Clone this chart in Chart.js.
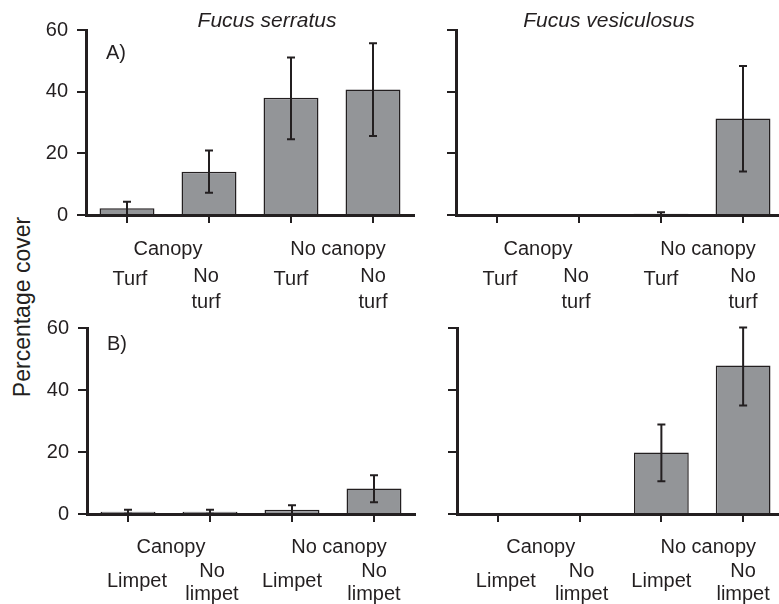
<!DOCTYPE html>
<html>
<head>
<meta charset="utf-8">
<script src="https://cdn.jsdelivr.net/npm/chart.js@4"></script>
<style>
  html, body { margin: 0; padding: 0; background: #fff; overflow: hidden; width: 779px; height: 604px; }
  canvas { position: absolute; }
  #ylab {
    position: absolute; left: 22px; top: 307px;
    transform: translate(-50%, -50%) rotate(-90deg);
    font: 23px "Liberation Sans", Arial, sans-serif; color: #231f20; white-space: nowrap;
  }
</style>
</head>
<body>
<div id="ylab">Percentage cover</div>
<canvas id="pA" style="left:0;top:0" width="430" height="320"></canvas>
<canvas id="pC" style="left:390px;top:0" width="400" height="320"></canvas>
<canvas id="pB" style="left:0;top:300px" width="430" height="304"></canvas>
<canvas id="pD" style="left:390px;top:300px" width="400" height="304"></canvas>
<script>
const species = ['Fucus serratus', 'Fucus vesiculosus']
const groupLabels = ['Canopy', 'No canopy']
const turfLabels = [['Turf'], ['No', 'turf'], ['Turf'], ['No', 'turf']]
const limpetLabels = [['Limpet'], ['No', 'limpet'], ['Limpet'], ['No', 'limpet']]
const yTicks = [0, 20, 40, 60]

// A) turf removal, F. serratus
const serratusTurf = [2.2, 14.0, 38.0, 40.7]
const serratusTurfLow = [0, 7.2, 24.6, 25.6]
const serratusTurfHigh = [4.3, 20.9, 51.1, 55.7]
// A) turf removal, F. vesiculosus
const vesiculosusTurf = [0, 0, 0.4, 31.3]
const vesiculosusTurfLow = [null, null, 0, 14.1]
const vesiculosusTurfHigh = [null, null, 0.9, 48.3]
// B) limpet removal, F. serratus
const serratusLimpet = [0.7, 0.7, 1.4, 8.2]
const serratusLimpetLow = [0.1, 0.1, 0, 3.8]
const serratusLimpetHigh = [1.4, 1.4, 2.8, 12.5]
// B) limpet removal, F. vesiculosus
const vesiculosusLimpet = [0, 0, 19.8, 47.9]
const vesiculosusLimpetLow = [null, null, 10.6, 35.0]
const vesiculosusLimpetHigh = [null, null, 28.9, 60.2]

const ink = '#231f20'
const family = '"Liberation Sans", Arial, sans-serif'
Chart.defaults.font.family = family

function decor(cfg) {
  return {
    id: 'decor',
    afterDatasetsDraw(chart) {
      const ctx = chart.ctx
      const x = chart.scales.x
      const y = chart.scales.y
      const meta = chart.getDatasetMeta(0)
      ctx.save()
      // error bars
      ctx.strokeStyle = ink
      ctx.lineWidth = 2
      cfg.high.forEach((h, i) => {
        if (h == null) return
        const px = meta.data[i].x
        const top = y.getPixelForValue(h)
        const bot = y.getPixelForValue(cfg.low[i])
        ctx.beginPath()
        ctx.moveTo(px, top); ctx.lineTo(px, bot)
        ctx.moveTo(px - 4, top); ctx.lineTo(px + 4, top)
        ctx.moveTo(px - 4, bot); ctx.lineTo(px + 4, bot)
        ctx.stroke()
      })
      ctx.fillStyle = ink
      ctx.textAlign = 'center'
      ctx.textBaseline = 'alphabetic'
      const y0 = y.getPixelForValue(0)
      // group labels
      ctx.font = '20px ' + family
      groupLabels.forEach((g, k) => {
        const cx = (x.getPixelForValue(2 * k) + x.getPixelForValue(2 * k + 1)) / 2 + cfg.groupShift[k]
        ctx.fillText(g, cx, y0 + cfg.rows.group)
      })
      // per-bar labels
      cfg.barLabels.forEach((lines, i) => {
        const px = x.getPixelForValue(i) + (cfg.labelShift[i] || 0)
        if (lines.length === 1) {
          ctx.fillText(lines[0], px, y0 + cfg.rows.single)
        } else {
          ctx.fillText(lines[0], px, y0 + cfg.rows.first)
          ctx.fillText(lines[1], px, y0 + cfg.rows.second)
        }
      })
      // panel title and letter
      if (cfg.title) {
        ctx.font = 'italic 21px ' + family
        ctx.fillText(cfg.title, cfg.titleX, 27)
      }
      if (cfg.letter) {
        ctx.font = '20px ' + family
        ctx.textAlign = 'left'
        ctx.fillText(cfg.letter, cfg.letterX, cfg.letterY)
      }
      ctx.restore()
    }
  }
}

function makePanel(cfg) {
  const ctx = document.getElementById(cfg.id).getContext('2d')
  return new Chart(ctx, {
    type: 'bar',
    data: {
      labels: cfg.barLabels.map(l => l.join(' ')),
      datasets: [{
        data: cfg.values,
        backgroundColor: '#939598',
        borderColor: ink,
        borderWidth: 1.5,
        barPercentage: 0.67,
        categoryPercentage: 1,
      }]
    },
    options: {
      responsive: false,
      animation: false,
      layout: { padding: { left: 0, top: cfg.top, right: cfg.right, bottom: 0 } },
      plugins: { legend: { display: false }, tooltip: { enabled: false } },
      scales: {
        x: {
          z: 1,
          offset: true,
          grid: { offset: false, drawOnChartArea: false, tickLength: 8, color: ink, lineWidth: 2 },
          border: { color: ink, width: 3 },
          ticks: { display: false },
          afterFit(s) { s.height = cfg.xh },
        },
        y: {
          min: 0,
          max: 60,
          afterBuildTicks(s) { s.ticks = yTicks.map(v => ({ value: v })) },
          grid: { drawOnChartArea: false, tickLength: 9, color: ink, lineWidth: 2 },
          border: { color: ink, width: 3 },
          ticks: { padding: 9, color: cfg.showY ? ink : 'rgba(0,0,0,0)', font: { size: 20 } },
          afterFit(s) { s.width = cfg.yw },
        }
      }
    },
    plugins: [decor(cfg)]
  })
}

const topRows = { group: 40, single: 70, first: 66.5, second: 93 }
const bottomRows = { group: 39, single: 72.5, first: 63, second: 86 }

makePanel({
  id: 'pA', values: serratusTurf, low: serratusTurfLow, high: serratusTurfHigh,
  barLabels: turfLabels, yw: 86, top: 30, right: 16, xh: 105, showY: true,
  rows: topRows, groupShift: [0, 6], labelShift: [3, -3, 0, 0],
  title: species[0], titleX: 267, letter: 'A)', letterX: 106, letterY: 59,
})
makePanel({
  id: 'pC', values: vesiculosusTurf, low: vesiculosusTurfLow, high: vesiculosusTurfHigh,
  barLabels: turfLabels, yw: 66, top: 30, right: 6, xh: 105, showY: false,
  rows: topRows, groupShift: [0, 6], labelShift: [3, -3, 0, 0],
  title: species[1], titleX: 219,
})
makePanel({
  id: 'pB', values: serratusLimpet, low: serratusLimpetLow, high: serratusLimpetHigh,
  barLabels: limpetLabels, yw: 87, top: 28, right: 15, xh: 90, showY: true,
  rows: bottomRows, groupShift: [2, 6], labelShift: [9, 2, 0, 0],
  letter: 'B)', letterX: 107, letterY: 50,
})
makePanel({
  id: 'pD', values: vesiculosusLimpet, low: vesiculosusLimpetLow, high: vesiculosusLimpetHigh,
  barLabels: limpetLabels, yw: 67, top: 28, right: 6, xh: 90, showY: false,
  rows: bottomRows, groupShift: [2, 6], labelShift: [8, 2, 0, 0],
})
</script>
</body>
</html>
